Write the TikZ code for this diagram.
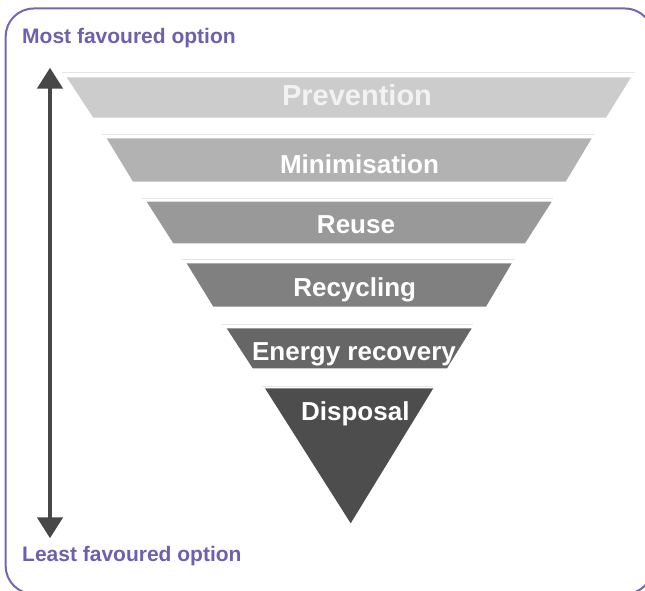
\documentclass[tikz,border=0pt]{standalone}
\usepackage{fontspec}
\setmainfont{Liberation Sans}
\usetikzlibrary{arrows.meta}
\definecolor{frameP}{HTML}{7466B4}
\definecolor{textP}{HTML}{6E60B0}
\definecolor{arrowG}{HTML}{474747}
\definecolor{c1}{HTML}{CCCCCC}
\definecolor{c2}{HTML}{B2B2B2}
\definecolor{c3}{HTML}{999999}
\definecolor{c4}{HTML}{808080}
\definecolor{c5}{HTML}{666666}
\definecolor{c6}{HTML}{4D4D4D}
\definecolor{edgeL}{HTML}{E6E6E6}
\tikzset{
  lvl/.style={text=white, font=\bfseries\fontsize{26}{30}\selectfont, anchor=base, inner sep=0pt},
  endlbl/.style={text=textP, font=\bfseries\fontsize{21}{25}\selectfont, anchor=base west, inner sep=0pt},
  topedge/.style={draw=edgeL, line width=1pt},
}
\begin{document}
\begin{tikzpicture}[x=1pt,y=-1pt]
\useasboundingbox (0,0) rectangle (645,591);
\begin{scope}
\clip (0,0) rectangle (645,591);
\draw[frameP, line width=2pt, rounded corners=28pt] (5.7,8.5) rectangle (653,594);
\end{scope}

% labels
\node[endlbl] (most) at (22,44) {Most favoured option};
\node[endlbl] (least) at (22,561) {Least favoured option};

% arrow
\coordinate (atop) at (50,67.7);
\coordinate (abot) at (50,538.3);
\draw[arrowG, line width=4.7pt, {Triangle[length=21pt,width=25pt]}-{Triangle[length=21pt,width=25pt]}] (atop) -- (abot);

% faint top edges
\draw[topedge] (62,72.7) -- (635,72.7);
\draw[topedge] (101.7,135) -- (594,135);
\draw[topedge] (141.7,198.3) -- (553,198.3);
\draw[topedge] (181.7,259.3) -- (515,259.3);
\draw[topedge] (221.7,324) -- (473.3,324);
\draw[topedge] (261.7,386) -- (433,386);

% levels
\fill[c1] (66.7,77.3) -- (631,77.3) -- (606,117.7) -- (93.3,117.7) -- cycle;
\fill[c2] (106.7,138.3) -- (591.7,138.3) -- (565.7,181.7) -- (133,181.7) -- cycle;
\fill[c3] (146.7,201.7) -- (551.7,201.7) -- (525,243.3) -- (173.3,243.3) -- cycle;
\fill[c4] (186.7,263.3) -- (511.7,263.3) -- (486,306.7) -- (213.3,306.7) -- cycle;
\fill[c5] (226.7,328.3) -- (471.7,328.3) -- (447,368.3) -- (252.7,368.3) -- cycle;
\fill[c6] (265,388.3) -- (433.3,388.3) -- (350.7,523.3) -- cycle;

\node[lvl, text=white!95!black, font=\bfseries\fontsize{29}{33}\selectfont] (prev) at (357,106) {Prevention};
\node[lvl] (mini) at (359.5,173.3) {Minimisation};
\node[lvl] (reuse) at (356,233.3) {Reuse};
\node[lvl] (recy) at (354.7,296.7) {Recycling};
\node[lvl] (energy) at (354,360) {Energy recovery};
\node[lvl] (disp) at (355.3,420) {Disposal};
\end{tikzpicture}
\end{document}
